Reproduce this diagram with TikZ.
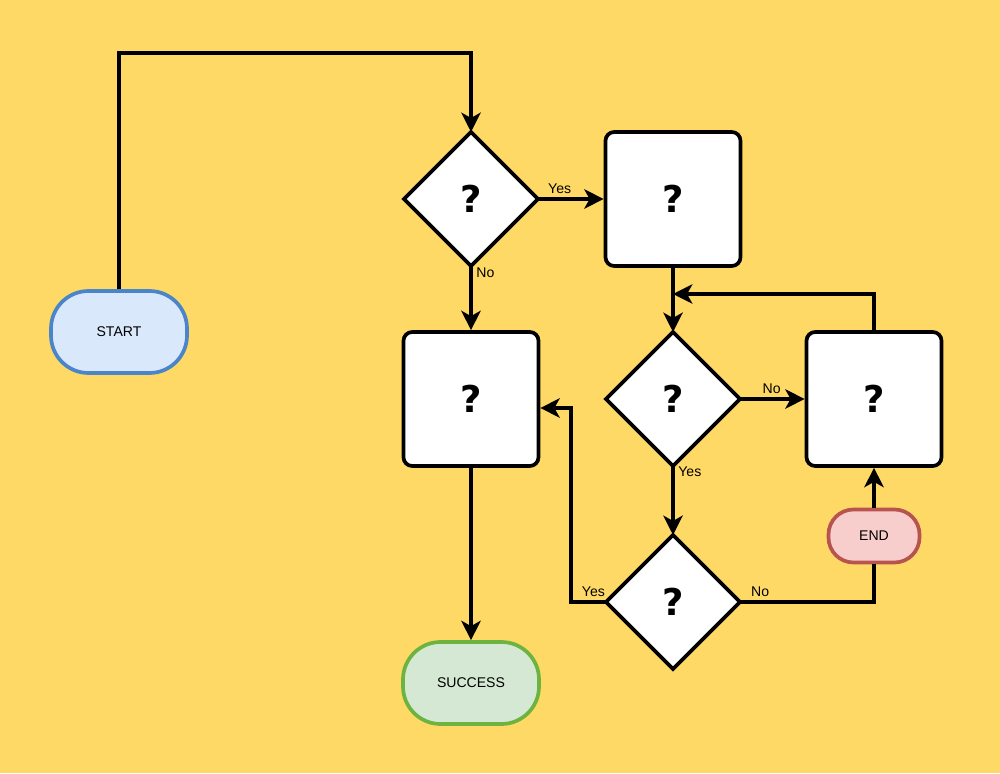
\documentclass[tikz,border=0pt]{standalone}
\usepackage{fontspec}
\setmainfont{Liberation Sans}
\newfontfamily\qfont{DejaVu Sans}
\usetikzlibrary{shapes.geometric, arrows.meta}

\definecolor{bgyellow}{HTML}{FFD966}
\definecolor{startfill}{HTML}{DAE8FC}
\definecolor{startline}{HTML}{4A84C9}
\definecolor{endfill}{HTML}{F8CECC}
\definecolor{endline}{HTML}{B85450}
\definecolor{okfill}{HTML}{D5E8D4}
\definecolor{okline}{HTML}{6DB33F}

\begin{document}
\begin{tikzpicture}[
  line width=2.1pt,
  arr/.style={-{Stealth[length=11pt,width=11pt,inset=3pt]}},
  box/.style={draw, fill=white, rounded corners=5pt, minimum width=2.7cm,
    minimum height=2.68cm, font=\qfont\bfseries\fontsize{21}{24}\selectfont},
  choice/.style={draw, fill=white, diamond, aspect=1, inner sep=0pt,
    outer sep=0pt, minimum width=2.68cm, minimum height=2.68cm,
    font=\qfont\bfseries\fontsize{21}{24}\selectfont},
  term/.style={draw, rounded corners=0.75cm, minimum width=2.72cm,
    minimum height=1.64cm, font=\fontsize{8}{9}\selectfont},
  lbl/.style={font=\fontsize{8}{9}\selectfont, inner sep=2pt}
]
  \fill[bgyellow] (0,0) rectangle (20,15.46);
  \useasboundingbox (0,0) rectangle (20,15.46);

  % terminals
  \node[term, fill=startfill, draw=startline] (start) at (2.38,8.82) {START};
  \node[term, fill=okfill, draw=okline] (success) at (9.42,1.80) {SUCCESS};
  \node[term, fill=endfill, draw=endline, rounded corners=0.5cm,
    minimum width=1.82cm, minimum height=1.06cm] (end) at (17.48,4.74) {END};

  % decisions and steps
  \node[choice] (d1) at (9.42,11.48) {?};
  \node[box] (b1) at (13.46,11.48) {?};
  \node[box] (b2) at (9.42,7.48) {?};
  \node[choice] (d2) at (13.46,7.48) {?};
  \node[box] (b3) at (17.48,7.48) {?};
  \node[choice] (d3) at (13.46,3.42) {?};

  \coordinate (corner) at (9.42,14.40);
  \coordinate (merge) at (13.46,9.58);
  \coordinate (yesturn) at (11.42,7.30);
  \coordinate (b2in) at (b2.east |- yesturn);

  % connectors
  \draw[arr] (start.north) |- (corner) -- (d1.north);
  \draw[arr] (d1.east) -- node[lbl, above, pos=0.33] {Yes} (b1.west);
  \draw[arr] (d1.south) -- node[lbl, right, pos=0.1] {No} (b2.north);
  \draw[arr] (b1.south) -- (d2.north);
  \draw[arr] (d2.east) -- node[lbl, above, pos=0.49] {No} (b3.west);
  \draw[arr] (d2.south) -- node[lbl, right, pos=0.08] {Yes} (d3.north);
  \draw[arr] (b3.north) |- (merge);
  \draw (d3.east) -| node[lbl, above, pos=0.075] {No} (end.south);
  \draw[arr] (end.north) -- (b3.south);
  \draw[arr] (d3.west) -| node[lbl, above, pos=0.18] {Yes} (yesturn) -- (b2in);
  \draw[arr] (b2.south) -- (success.north);
\end{tikzpicture}
\end{document}
